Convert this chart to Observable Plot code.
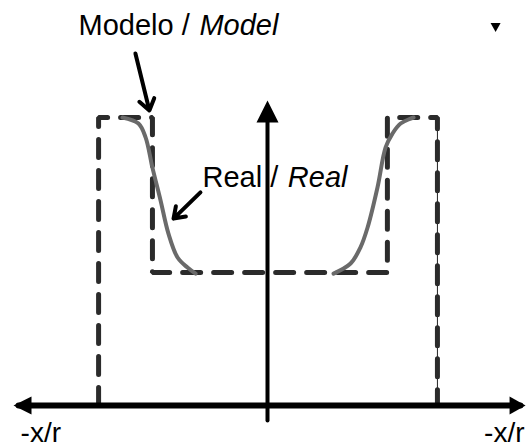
<!DOCTYPE html>
<html>
<head>
<meta charset="utf-8">
<script src="https://cdn.jsdelivr.net/npm/d3@7"></script>
<script src="https://cdn.jsdelivr.net/npm/@observablehq/plot@0.6"></script>
<style>
  html, body { margin: 0; padding: 0; background: #fff; }
  #chart svg { display: block; }
</style>
</head>
<body>
<div id="chart"></div>
<script>
// Model (dashed) profile, in units of x/r and relative height
const modelX = [-0.665, -0.665, -0.453, -0.453, 0.472, 0.472, 0.669, 0.669];
const modelY = [0, 1, 1, 0.462, 0.462, 1, 1, 0];

// Real (solid grey) profile, left and right flanks
const realLeftX = [-0.571, -0.508, -0.480, -0.453, -0.421, -0.390, -0.354, -0.315, -0.283];
const realLeftY = [1.0, 0.979, 0.931, 0.826, 0.712, 0.597, 0.514, 0.479, 0.458];
const realRightX = [0.260, 0.327, 0.366, 0.394, 0.433, 0.465, 0.492, 0.524, 0.575];
const realRightY = [0.458, 0.493, 0.549, 0.618, 0.757, 0.896, 0.944, 0.979, 1.0];

// Axes
const hAxisX = [-1.0, 1.016];
const vAxisY = [-0.052, 1.059];

// Curve labels
const labelNormal = ["Modelo /", "Real /"];
const labelNormalX = [-0.744, -0.256];
const labelNormalY = [1.285, 0.760];
const labelItalic = ["Model", "Real"];
const labelItalicX = [-0.268, 0.080];
const labelItalicY = [1.285, 0.760];
// Axis end labels
const axisLabelLeft = ["-x/r"];
const axisLabelLeftX = [-0.972];
const axisLabelRight = ["-x/r"];
const axisLabelRightX = [1.012];
const axisLabelY = [-0.127];

// Pointer arrows (from label to curve)
const pointerX1 = [-0.520, -0.264];
const pointerY1 = [1.222, 0.740];
const pointerX2 = [-0.465, -0.370];
const pointerY2 = [1.024, 0.649];

// Small marker
const markerX = [0.898];
const markerY = [1.3125];

const model = modelX.map((x, i) => ({x, y: modelY[i]}));
const real = [
  ...realLeftX.map((x, i) => ({x, y: realLeftY[i], side: "L"})),
  ...realRightX.map((x, i) => ({x, y: realRightY[i], side: "R"}))
];
const pointers = pointerX1.map((x1, i) => ({x1, y1: pointerY1[i], x2: pointerX2[i], y2: pointerY2[i]}));

const headUp = {draw(c) { c.moveTo(0, 0); c.lineTo(-11, 22); c.lineTo(11, 22); c.closePath(); }};
const headLeft = {draw(c) { c.moveTo(0, 0); c.lineTo(18, -9); c.lineTo(18, 9); c.closePath(); }};
const headRight = {draw(c) { c.moveTo(0, 0); c.lineTo(-16, -9); c.lineTo(-16, 9); c.closePath(); }};
const headDown = {draw(c) { c.moveTo(-5, -4.5); c.lineTo(5, -4.5); c.lineTo(0, 4.5); c.closePath(); }};

const font = "'Liberation Sans', Arial, Helvetica, sans-serif";

const chart = Plot.plot({
  width: 528,
  height: 448,
  margin: 0,
  x: {domain: [-1, 1], range: [13, 521], axis: null},
  y: {domain: [0, 1], range: [405, 117], axis: null},
  style: {background: "#fff", fontFamily: font},
  marks: [
    // thin line through right outer model edge
    Plot.line([model[6], model[7]], {x: "x", y: "y", stroke: "#222", strokeWidth: 1}),
    // model (dashed)
    Plot.line(model, {x: "x", y: "y", stroke: "#2b2b2b", strokeWidth: 5, strokeDasharray: "18,13", strokeLinejoin: "miter"}),
    // real (grey)
    Plot.line(real, {x: "x", y: "y", z: "side", stroke: "#6a6a6a", strokeWidth: 4, curve: "catmull-rom"}),
    // horizontal axis
    Plot.line(hAxisX.map(x => ({x: x * 0.98, y: 0})), {x: "x", y: "y", stroke: "#000", strokeWidth: 6}),
    Plot.dot([{x: hAxisX[0], y: 0}], {x: "x", y: "y", symbol: headLeft, fill: "#000", stroke: "none"}),
    Plot.dot([{x: hAxisX[1], y: 0}], {x: "x", y: "y", symbol: headRight, fill: "#000", stroke: "none"}),
    // vertical axis
    Plot.line([{x: 0, y: vAxisY[0]}, {x: 0, y: vAxisY[1] - 0.05}], {x: "x", y: "y", stroke: "#000", strokeWidth: 4}),
    Plot.dot([{x: 0, y: vAxisY[1]}], {x: "x", y: "y", symbol: headUp, fill: "#000", stroke: "none"}),
    // pointer arrows
    Plot.arrow(pointers, {x1: "x1", y1: "y1", x2: "x2", y2: "y2", stroke: "#000", strokeWidth: 4, headLength: 5, headAngle: 70}),
    // labels
    Plot.text(labelNormal, {x: (d, i) => labelNormalX[i], y: (d, i) => labelNormalY[i], text: d => d, textAnchor: "start", lineAnchor: "bottom", fontSize: 29, fill: "#000"}),
    Plot.text(labelItalic, {x: (d, i) => labelItalicX[i], y: (d, i) => labelItalicY[i], text: d => d, textAnchor: "start", lineAnchor: "bottom", fontSize: 29, fontStyle: "italic", fill: "#000"}),
    Plot.text(axisLabelLeft, {x: (d, i) => axisLabelLeftX[i], y: (d, i) => axisLabelY[i], text: d => d, textAnchor: "start", lineAnchor: "bottom", fontSize: 28, fill: "#000"}),
    Plot.text(axisLabelRight, {x: (d, i) => axisLabelRightX[i], y: (d, i) => axisLabelY[i], text: d => d, textAnchor: "end", lineAnchor: "bottom", fontSize: 28, fill: "#000"}),
    // small marker
    Plot.dot(markerX.map((x, i) => ({x, y: markerY[i]})), {x: "x", y: "y", symbol: headDown, fill: "#000", stroke: "none"})
  ]
});
document.getElementById("chart").appendChild(chart);
</script>
</body>
</html>
